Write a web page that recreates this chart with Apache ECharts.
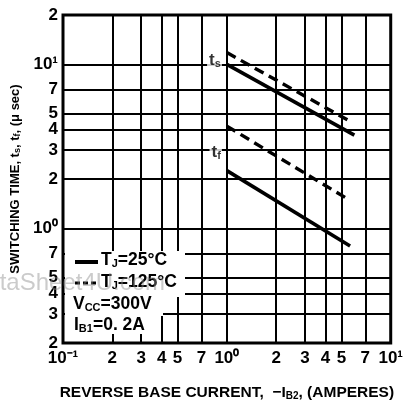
<!DOCTYPE html>
<html><head><meta charset="utf-8">
<script src="https://cdn.jsdelivr.net/npm/echarts@6/dist/echarts.min.js"></script>
<style>html,body{margin:0;padding:0;background:#fff}#c{width:406px;height:407px}</style>
</head><body><div id="c"></div>
<script>
// Reverse base current (A) and switching times (µs)
const tsX = [1, 6.0];
const tsSolid = [10, 3.7];        // Tj = 25°C
const tsDashX = [1, 5.75];
const tsDashed = [11.8, 4.45];    // Tj = 125°C
const tfDashX = [1, 5.65];
const tfDashed = [4.2, 1.48];     // Tj = 125°C
const tfX = [1, 5.65];
const tfSolid = [2.25, 0.78];     // Tj = 25°C

const xTicks = [0.1, 0.2, 0.3, 0.4, 0.5, 0.7, 1, 2, 3, 4, 5, 7, 10];
const yTicks = [0.2, 0.3, 0.4, 0.5, 0.7, 1, 2, 3, 4, 5, 7, 10, 20];
const L = v => Math.log10(v);
const pow = {'-1': '10⁻¹', '0': '10⁰', '1': '10¹'};
function fmt(lv) {
  const v = Math.pow(10, lv);
  const e = Math.round(lv);
  if (Math.abs(lv - e) < 1e-6 && pow[e] !== undefined) return pow[e];
  const d = v / Math.pow(10, Math.floor(lv + 1e-9));
  return String(Math.round(d));
}
const pts = (xs, ys) => xs.map((x, i) => [L(x), L(ys[i])]);
const font = 'Liberation Sans';
const rt = {fontFamily: font, fontWeight: 'bold', fontSize: 17.5, fill: '#000'};
const rs = {fontFamily: font, fontWeight: 'bold', fontSize: 11, fill: '#000', padding: [7, 0, 0, 0]};
function legText(x, y, text) {
  return {type: 'text', x: x, y: y, z: 12, style: {text: text, backgroundColor: '#fff', padding: [0, 2, 0, 1], rich: {t: rt, s: rs}}};
}
const lblRich = {
  t: {fontFamily: font, fontWeight: 'bold', fontSize: 17, color: '#000'},
  s: {fontFamily: font, fontWeight: 'bold', fontSize: 11, color: '#000', padding: [7, 0, 0, 0]}
};
const chart = echarts.init(document.getElementById('c'), null, {renderer: 'canvas'});
chart.setOption({
  animation: false,
  backgroundColor: '#fff',
  grid: {left: 63, right: 11, top: 15, bottom: 64, show: true, borderColor: '#000', borderWidth: 3, backgroundColor: 'transparent'},
  xAxis: {
    type: 'value', min: L(0.1), max: L(10),
    axisLine: {show: false},
    axisTick: {show: false, customValues: xTicks.map(L)},
    splitLine: {show: true, lineStyle: {color: '#000', width: 2}},
    axisLabel: {customValues: xTicks.map(L), formatter: fmt, color: '#000', fontFamily: font, fontWeight: 'bold', fontSize: 17, margin: 7},
    name: '{t|REVERSE BASE CURRENT,  −I}{s|B2}{t|, (AMPERES)}',
    nameLocation: 'middle', nameGap: 42,
    nameTextStyle: {rich: {t: {fontFamily: font, fontWeight: 'bold', fontSize: 15.5, color: '#000'}, s: {fontFamily: font, fontWeight: 'bold', fontSize: 10, color: '#000', padding: [6, 0, 0, 0]}}}
  },
  yAxis: {
    type: 'value', min: L(0.2), max: L(20),
    axisLine: {show: false},
    axisTick: {show: false, customValues: yTicks.map(L)},
    splitLine: {show: true, lineStyle: {color: '#000', width: 2}},
    axisLabel: {customValues: yTicks.map(L), formatter: fmt, color: '#000', fontFamily: font, fontWeight: 'bold', fontSize: 17, margin: 5},
    name: '{t|SWITCHING TIME, t}{s|s}{t|, t}{s|f}{t|, (μ sec)}',
    nameLocation: 'middle', nameGap: 39,
    nameTextStyle: {rich: {t: {fontFamily: font, fontWeight: 'bold', fontSize: 13, color: '#000'}, s: {fontFamily: font, fontWeight: 'bold', fontSize: 9, color: '#000', padding: [5, 0, 0, 0]}}}
  },
  series: [
    {type: 'line', data: pts(tsX, tsSolid), symbol: 'none', z: 5, lineStyle: {color: '#000', width: 3.6}},
    {type: 'line', data: pts(tsDashX, tsDashed), symbol: 'none', z: 5, lineStyle: {color: '#000', width: 3.4, type: [10, 6]}},
    {type: 'line', data: pts(tfDashX, tfDashed), symbol: 'none', z: 5, lineStyle: {color: '#000', width: 3.4, type: [10, 6]}},
    {type: 'line', data: pts(tfX, tfSolid), symbol: 'none', z: 5, lineStyle: {color: '#000', width: 3.6}},
    {type: 'scatter', symbolSize: 0, z: 6, silent: true,
     data: [
       {value: [L(1), L(10)], label: {show: true, position: 'left', offset: [0, -4], formatter: '{t|t}{s|s}'}},
       {value: [L(1), L(3)], label: {show: true, position: 'left', offset: [0, 2], formatter: '{t|t}{s|f}'}}
     ],
     label: {backgroundColor: '#fff', padding: [0, 1, 0, 2], rich: lblRich}
    }
  ],
  graphic: [
    {type: 'rect', x: 65, y: 251, z: 10, shape: {width: 120, height: 46}, style: {fill: '#fff'}},
    {type: 'rect', x: 65, y: 296, z: 10, shape: {width: 98, height: 20}, style: {fill: '#fff'}},
    {type: 'rect', x: 65, y: 318, z: 10, shape: {width: 92, height: 15}, style: {fill: '#fff'}},
    {type: 'line', z: 12, shape: {x1: 75, y1: 262, x2: 98, y2: 262}, style: {stroke: '#000', lineWidth: 4}},
    {type: 'line', z: 12, shape: {x1: 75, y1: 283, x2: 98, y2: 283}, style: {stroke: '#000', lineWidth: 3, lineDash: [5, 3]}},
    legText(100, 251, '{t|T}{s|J}{t|=25°C}'),
    legText(100, 273, '{t|T}{s|J}{t|=125°C}'),
    legText(72, 295, '{t|V}{s|CC}{t|=300V}'),
    legText(73, 316, '{t|I}{s|B1}{t|=0. 2A}'),
    {type: 'text', x: -31, y: 271, z: 20, silent: true, style: {text: 'DataSheet4U.com', font: '24px "Liberation Sans"', fill: 'rgba(140,140,140,0.45)'}}
  ]
});
</script></body></html>
